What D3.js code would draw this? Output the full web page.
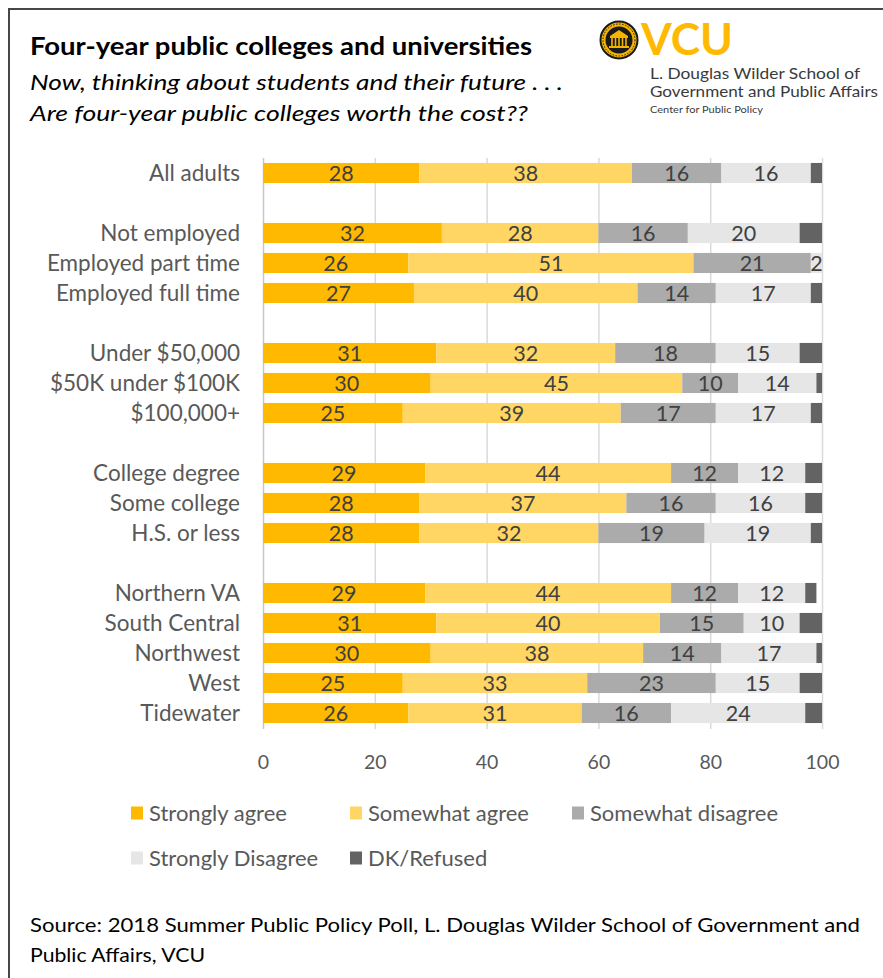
<!DOCTYPE html>
<html>
<head>
<meta charset="utf-8">
<script src="https://cdn.jsdelivr.net/npm/d3@7"></script>
<style>
  body { margin: 0; background: #fff; }
  svg { display: block; }
  text { font-family: Lato, "Open Sans", sans-serif; }
</style>
</head>
<body>
<svg id="chart" width="883" height="978"></svg>
<script>
// Survey groups, top to bottom
const categories = [
  "All adults",
  "Not employed", "Employed part time", "Employed full time",
  "Under $50,000", "$50K under $100K", "$100,000+",
  "College degree", "Some college", "H.S. or less",
  "Northern VA", "South Central", "Northwest", "West", "Tidewater"
];
// Row order including blank spacer rows between groups
const rowOrder = [
  "All adults", "gap-1",
  "Not employed", "Employed part time", "Employed full time", "gap-2",
  "Under $50,000", "$50K under $100K", "$100,000+", "gap-3",
  "College degree", "Some college", "H.S. or less", "gap-4",
  "Northern VA", "South Central", "Northwest", "West", "Tidewater"
];

const seriesNames = ["Strongly agree", "Somewhat agree", "Somewhat disagree", "Strongly Disagree", "DK/Refused"];
const seriesColors = ["#FFB900", "#FFD664", "#ABABAB", "#E6E6E6", "#636363"];

const stronglyAgree     = [28, 32, 26, 27, 31, 30, 25, 29, 28, 28, 29, 31, 30, 25, 26];
const somewhatAgree     = [38, 28, 51, 40, 32, 45, 39, 44, 37, 32, 44, 40, 38, 33, 31];
const somewhatDisagree  = [16, 16, 21, 14, 18, 10, 17, 12, 16, 19, 12, 15, 14, 23, 16];
const stronglyDisagree  = [16, 20,  2, 17, 15, 14, 17, 12, 16, 19, 12, 10, 17, 15, 24];
const dkRefused         = [ 2,  4,  0,  2,  4,  1,  2,  3,  3,  2,  2,  4,  1,  4,  3];

const xTicks = [0, 20, 40, 60, 80, 100];

const seriesValues = [stronglyAgree, somewhatAgree, somewhatDisagree, stronglyDisagree, dkRefused];
const rows = categories.map((c, i) => {
  const r = { category: c };
  seriesNames.forEach((s, k) => { r[s] = seriesValues[k][i]; });
  return r;
});

const svg = d3.select("#chart");

// Frame
svg.append("path")
  .attr("d", "M9,978 L9,9 L883,9")
  .attr("fill", "none")
  .attr("stroke", "#474747")
  .attr("stroke-width", 2);

// Titles
svg.append("text")
  .attr("x", 30).attr("y", 55)
  .attr("font-size", 24).attr("font-weight", 700).attr("fill", "#000")
  .attr("textLength", 502).attr("lengthAdjust", "spacingAndGlyphs")
  .text("Four-year public colleges and universities");
svg.append("text")
  .attr("x", 30).attr("y", 90)
  .attr("font-size", 22).attr("font-style", "italic").attr("fill", "#000")
  .attr("textLength", 533).attr("lengthAdjust", "spacingAndGlyphs")
  .text("Now, thinking about students and their future . . .");
svg.append("text")
  .attr("x", 30).attr("y", 121)
  .attr("font-size", 22).attr("font-style", "italic").attr("fill", "#000")
  .attr("textLength", 498).attr("lengthAdjust", "spacingAndGlyphs")
  .text("Are four-year public colleges worth the cost??");

// Logo: seal + wordmark
const logo = svg.append("g");
logo.append("circle").attr("cx", 619).attr("cy", 40).attr("r", 18.5)
  .attr("fill", "#F5B400").attr("stroke", "#1a1a1a").attr("stroke-width", 2);
logo.append("circle").attr("cx", 619).attr("cy", 40).attr("r", 13.5)
  .attr("fill", "#1a1a1a");
logo.append("circle").attr("cx", 619).attr("cy", 40).attr("r", 16)
  .attr("fill", "none").attr("stroke", "#1a1a1a").attr("stroke-width", 1).attr("stroke-dasharray", "1.5 1.5");
// temple in the seal
logo.append("path").attr("d", "M610,36 L619,30 L628,36 Z").attr("fill", "#F5B400");
logo.append("rect").attr("x", 610).attr("y", 36).attr("width", 18).attr("height", 2).attr("fill", "#F5B400");
[612, 615.5, 619, 622.5, 626].forEach(cx => {
  logo.append("rect").attr("x", cx - 0.8).attr("y", 38).attr("width", 1.6).attr("height", 8).attr("fill", "#F5B400");
});
logo.append("rect").attr("x", 609).attr("y", 46).attr("width", 20).attr("height", 2).attr("fill", "#F5B400");

logo.append("text")
  .attr("x", 641).attr("y", 55)
  .attr("font-family", "'Liberation Sans', Arial, sans-serif")
  .attr("font-size", 43).attr("font-weight", 700).attr("fill", "#FFB900")
  .attr("textLength", 92).attr("lengthAdjust", "spacingAndGlyphs")
  .text("VCU");
const logoLines = [
  { t: "L. Douglas Wilder School of", y: 79, s: 16, w: 210 },
  { t: "Government and Public Affairs", y: 97, s: 16, w: 228 },
  { t: "Center for Public Policy", y: 113, s: 10, w: 113 }
];
logoLines.forEach(d => {
  logo.append("text")
    .attr("x", 650).attr("y", d.y)
    .attr("font-family", "'Liberation Sans', Arial, sans-serif")
    .attr("font-size", d.s).attr("fill", "#3a3a3a")
    .attr("textLength", d.w).attr("lengthAdjust", "spacingAndGlyphs")
    .text(d.t);
});

// Scales
const plotTop = 158, plotBottom = 728;
const x = d3.scaleLinear().domain([0, 100]).range([263, 822]);
const y = d3.scaleBand().domain(rowOrder).range([plotTop, plotBottom])
  .paddingInner(0.33).paddingOuter(0.165);

// Gridlines and tick labels
const xAxis = d3.axisBottom(x).tickValues(xTicks)
  .tickSizeInner(-(plotBottom - plotTop + 1)).tickSizeOuter(0).tickPadding(26);
const ax = svg.append("g").attr("transform", `translate(0,${plotBottom + 1})`).call(xAxis);
ax.select(".domain").remove();
ax.selectAll(".tick line").attr("stroke", d => d === 0 ? "#C8C8C8" : "#DADADA").attr("stroke-width", 1.5);
ax.selectAll(".tick text")
  .attr("font-family", "Lato, sans-serif").attr("font-size", 19.5).attr("fill", "#595959");

// Stacked bars
const stack = d3.stack().keys(seriesNames);
const stacked = stack(rows);

const layers = svg.append("g").selectAll("g")
  .data(stacked).join("g")
  .attr("fill", (d, i) => seriesColors[i]);

layers.selectAll("rect")
  .data(d => d)
  .join("rect")
  .attr("x", d => x(d[0]))
  .attr("y", d => y(d.data.category))
  .attr("width", d => x(d[1]) - x(d[0]))
  .attr("height", y.bandwidth());

// Value labels for the first four series
const labelLayers = svg.append("g").selectAll("g")
  .data(stacked.slice(0, 4)).join("g");
labelLayers.selectAll("text")
  .data(d => d.filter(p => p[1] - p[0] > 0))
  .join("text")
  .attr("x", d => (x(d[0]) + x(d[1])) / 2)
  .attr("y", d => y(d.data.category) + y.bandwidth() / 2)
  .attr("dy", "0.36em")
  .attr("text-anchor", "middle")
  .attr("font-size", 21.5).attr("fill", "#404040")
  .text(d => d[1] - d[0]);

// Category labels
svg.append("g").selectAll("text")
  .data(categories).join("text")
  .attr("x", 240)
  .attr("y", d => y(d) + y.bandwidth() / 2)
  .attr("dy", "0.36em")
  .attr("text-anchor", "end")
  .attr("font-size", 22.5).attr("fill", "#595959")
  .text(d => d);

// Legend
const legendPos = [
  { x: 131, y: 813 }, { x: 350, y: 813 }, { x: 572, y: 813 },
  { x: 131, y: 858 }, { x: 350, y: 858 }
];
const legend = svg.append("g").selectAll("g")
  .data(seriesNames).join("g")
  .attr("transform", (d, i) => `translate(${legendPos[i].x},${legendPos[i].y})`);
legend.append("rect")
  .attr("x", 0).attr("y", -6.5).attr("width", 12).attr("height", 13)
  .attr("fill", (d, i) => seriesColors[i]);
legend.append("text")
  .attr("x", 18).attr("y", 0).attr("dy", "0.36em")
  .attr("font-size", 22).attr("fill", "#595959")
  .text(d => d);

// Source note
svg.append("text")
  .attr("x", 30).attr("y", 932)
  .attr("font-size", 20).attr("fill", "#000")
  .attr("textLength", 830).attr("lengthAdjust", "spacingAndGlyphs")
  .text("Source: 2018 Summer Public Policy Poll, L. Douglas Wilder School of Government and");
svg.append("text")
  .attr("x", 30).attr("y", 962)
  .attr("font-size", 20).attr("fill", "#000")
  .attr("textLength", 175).attr("lengthAdjust", "spacingAndGlyphs")
  .text("Public Affairs, VCU");
</script>
</body>
</html>
